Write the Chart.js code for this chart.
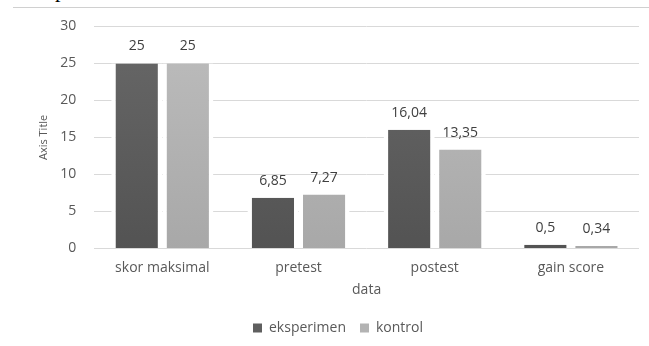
<!DOCTYPE html>
<html>
<head>
<meta charset="utf-8">
<script src="https://cdn.jsdelivr.net/npm/chart.js@4.4.1/dist/chart.umd.min.js"></script>
<style>
  html, body { margin: 0; padding: 0; background: #fff; }
  #wrap { position: relative; width: 649px; height: 346px; overflow: hidden; }
  #topline { position: absolute; left: 13px; right: 0; top: 7px; border-top: 1px solid #d0d0d0; }
  #cut { position: absolute; left: 55px; top: -23px; font: 22px "Liberation Serif", serif; color: #000; }
  canvas { position: absolute; left: 0; top: 0; }
</style>
</head>
<body>
<div id="wrap">
  <div id="cut">p</div>
  <div id="topline"></div>
  <canvas id="c" width="649" height="346"></canvas>
</div>
<script>
const categories = ['skor maksimal', 'pretest', 'postest', 'gain score'];
const eksperimen = [25, 6.85, 16.04, 0.5];
const kontrol = [25, 7.27, 13.35, 0.34];
const yTicks = [0, 5, 10, 15, 20, 25, 30];

const FONT = '"Open Sans", "DejaVu Sans", sans-serif';
const TEXT = '#595959';

function fmt(v) { return String(v).replace('.', ','); }

function shade(ctx, top, bottom) {
  const area = ctx.chart.chartArea;
  if (!area) return top;
  const g = ctx.chart.ctx.createLinearGradient(0, area.top, 0, area.bottom);
  g.addColorStop(0, top);
  g.addColorStop(1, bottom);
  return g;
}

// value labels above each bar
const valueLabels = {
  id: 'valueLabels',
  afterDatasetsDraw(chart) {
    const ctx = chart.ctx;
    ctx.save();
    ctx.font = '14px ' + FONT;
    ctx.fillStyle = '#404040';
    ctx.textAlign = 'center';
    ctx.textBaseline = 'bottom';
    chart.data.datasets.forEach((ds, i) => {
      chart.getDatasetMeta(i).data.forEach((bar, j) => {
        ctx.fillText(fmt(ds.data[j]), bar.x, bar.y - 10);
      });
    });
    ctx.restore();
  }
};

// white side borders leave a small gap between the paired bars
const sideBorder = { left: 4.5, right: 4.5, top: 0, bottom: 0 };

new Chart(document.getElementById('c'), {
  type: 'bar',
  data: {
    labels: categories,
    datasets: [
      {
        label: 'eksperimen',
        data: eksperimen,
        backgroundColor: c => shade(c, '#686868', '#535353'),
        borderColor: '#ffffff',
        borderWidth: sideBorder,
        borderSkipped: false
      },
      {
        label: 'kontrol',
        data: kontrol,
        backgroundColor: c => shade(c, '#bdbdbd', '#a8a8a8'),
        borderColor: '#ffffff',
        borderWidth: sideBorder,
        borderSkipped: false
      }
    ]
  },
  options: {
    responsive: false,
    animation: false,
    devicePixelRatio: 1,
    layout: { padding: { left: 37, right: 10, top: 13, bottom: 1 } },
    datasets: { bar: { categoryPercentage: 0.75, barPercentage: 1 } },
    plugins: {
      legend: {
        position: 'bottom',
        labels: {
          font: { family: FONT, size: 14 },
          color: TEXT,
          boxWidth: 9,
          boxHeight: 9,
          padding: 14,
          generateLabels(chart) {
            const cols = ['#5f5f5f', '#b3b3b3'];
            return chart.data.datasets.map((ds, i) => ({
              text: ds.label, fillStyle: cols[i], strokeStyle: cols[i],
              lineWidth: 0, datasetIndex: i, fontColor: TEXT
            }));
          }
        }
      },
      tooltip: { enabled: false }
    },
    scales: {
      x: {
        grid: { display: false, drawTicks: false },
        border: { display: false },
        ticks: { font: { family: FONT, size: 14 }, color: TEXT, padding: 11 },
        title: { display: true, text: 'data', font: { family: FONT, size: 14 }, color: TEXT, padding: { top: -6, bottom: 9 } }
      },
      y: {
        min: 0, max: 30,
        afterBuildTicks(scale) { scale.ticks = yTicks.map(v => ({ value: v })); },
        grid: { color: '#d9d9d9', drawTicks: false },
        border: { display: false },
        ticks: { font: { family: FONT, size: 14 }, color: TEXT, padding: 18 },
        title: { display: true, text: 'Axis Title', font: { family: FONT, size: 11 }, color: TEXT, padding: { top: 0, bottom: -8 } }
      }
    }
  },
  plugins: [valueLabels]
});
</script>
</body>
</html>
